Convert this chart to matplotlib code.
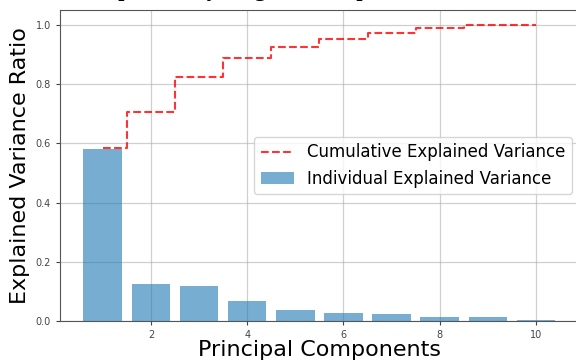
import numpy as np
import matplotlib.pyplot as plt

components = np.arange(1, 11)
individual = [0.582, 0.126, 0.119, 0.066, 0.037, 0.028, 0.022, 0.014, 0.012, 0.004]
cumulative = [0.583, 0.707, 0.825, 0.889, 0.926, 0.954, 0.974, 0.988, 1.0, 1.0]
title = "Variance Explained by Singular Components"

fig = plt.figure(figsize=(5.76, 3.61), dpi=100)
ax = fig.add_axes([0.104, 0.111, 0.901, 0.861])

ax.bar(components, individual, alpha=0.6, color="#1f77b4",
       label="Individual Explained Variance")
ax.step(components, cumulative, where="mid", ls="--", color="red", alpha=0.8,
        label="Cumulative Explained Variance")

ax.set_axisbelow(True)
ax.grid(True, color="#b0b0b0", alpha=0.6, lw=0.9)
ax.set_xlabel("Principal Components", fontsize=16, labelpad=0)
ax.set_ylabel("Explained Variance Ratio", fontsize=16, labelpad=4)
ax.tick_params(labelsize=7, colors="#444444", length=3, width=0.8)
for s in ax.spines.values():
    s.set_color("#555555")
ax.legend(loc="center right", fontsize=12, framealpha=0.8,
          borderaxespad=0.4)

# title sits mostly above the visible area, only descenders show
fig.text(0.375, 1.011, title, ha="center", va="baseline",
         family="Liberation Serif", weight="bold", fontsize=16)

fig.savefig("out.png", dpi=100)
